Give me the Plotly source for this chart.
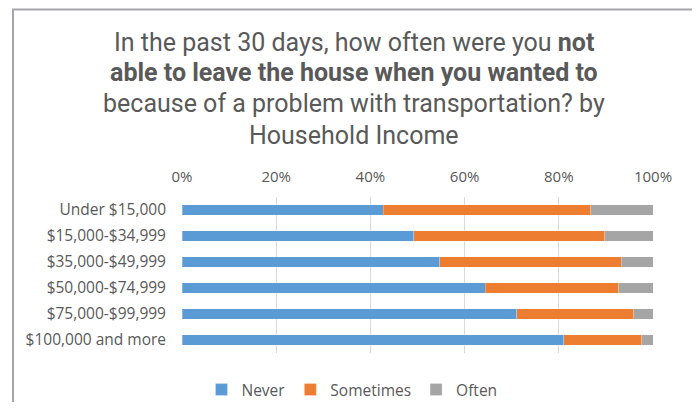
import plotly.graph_objects as go

# income groups, top to bottom as shown
incomes = ["Under $15,000", "$15,000-$34,999", "$35,000-$49,999",
           "$50,000-$74,999", "$75,000-$99,999", "$100,000 and more"]

never = [0.427, 0.492, 0.547, 0.644, 0.711, 0.810]
sometimes = [0.441, 0.406, 0.386, 0.283, 0.248, 0.166]
often = [0.132, 0.102, 0.067, 0.073, 0.041, 0.024]

series = [("Never", never, "#5B9BD5"),
          ("Sometimes", sometimes, "#ED7D31"),
          ("Often", often, "#A5A5A5")]

title_lines = ["In the past 30 days, how often were you <b>not</b>",
               "<b>able to leave the house when you wanted to</b>",
               "because of a problem with transportation? by",
               "Household Income"]

fig = go.Figure()
for name, vals, col in series:
    fig.add_trace(go.Bar(
        y=incomes, x=vals, name=name, orientation="h",
        marker=dict(color=col, line=dict(color="rgba(255,255,255,0.5)", width=0.5)),
    ))

gray = "#595959"
# page has an 8px body margin, so the figure is shrunk to fit
W, H = 692, 394
L, R, T, B = 174, 47, 189, 49
pw, ph = W - L - R, H - T - B


def px_x(x):
    return (x - 8 - L) / pw


def px_y(y):
    return (T + ph - (y - 8)) / ph


# title, one annotation per line
for i, line in enumerate(title_lines):
    fig.add_annotation(text=line, xref="paper", yref="paper",
                       x=px_x(354), y=px_y(42 + 31 * i),
                       xanchor="center", yanchor="middle", showarrow=False,
                       font=dict(family="Roboto, sans-serif", size=25, color=gray))

fig.update_layout(
    barmode="stack",
    bargap=0.6,
    width=W, height=H,
    margin=dict(l=L, r=R, t=T, b=B, autoexpand=False),
    paper_bgcolor="white",
    plot_bgcolor="white",
    font=dict(family="Open Sans, sans-serif", size=15.5, color=gray),
    legend=dict(orientation="h", xref="container", yref="container",
                x=(352 - 8) / W, xanchor="center",
                y=1 - (390 - 8) / H, yanchor="middle",
                font=dict(size=15.5, color=gray), traceorder="normal",
                itemwidth=30),
    showlegend=True,
)

fig.update_xaxes(
    side="top", range=[0, 1], tickformat=".0%", dtick=0.2,
    showgrid=True, gridcolor="#D9D9D9", gridwidth=1,
    zeroline=False, showline=False, ticklabelstandoff=11,
    tickfont=dict(size=15),
    fixedrange=True, automargin=False,
)
fig.update_yaxes(
    autorange="reversed", showgrid=False, zeroline=False,
    showline=False, ticklabelstandoff=15, fixedrange=True, automargin=False,
)

# chart border (open at bottom, like the cropped original)
fig.add_shape(type="rect", xref="paper", yref="paper",
              x0=px_x(13), x1=px_x(694),
              y0=px_y(440), y1=px_y(9.5),
              line=dict(color="#A5A5AA", width=2), fillcolor="rgba(0,0,0,0)",
              layer="below")

fig.write_html("out.html")
